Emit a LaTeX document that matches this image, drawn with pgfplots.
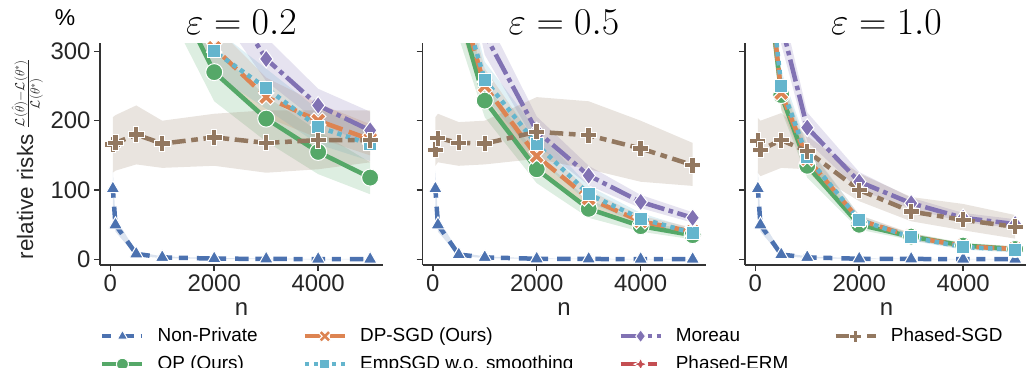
\RequirePackage{fix-cm}
\documentclass[border=0pt]{standalone}
\usepackage[no-math]{fontspec}
\setmainfont{Liberation Sans}
\usepackage{pgfplots}
\pgfplotsset{compat=1.18}
\usepgfplotslibrary{fillbetween}
\usepackage{pgfplotstable}

\definecolor{cnp}{HTML}{4C72B0}
\definecolor{cop}{HTML}{55A868}
\definecolor{cdp}{HTML}{DD8452}
\definecolor{cemp}{HTML}{64B5CD}
\definecolor{cmo}{HTML}{8172B3}
\definecolor{cpe}{HTML}{C44E52}
\definecolor{cps}{HTML}{937860}

% filled plus (seaborn 'P'), filled X, four-point star
\pgfdeclareplotmark{Pfill}{%
 \pgfpathmoveto{\pgfqpoint{0.34\pgfplotmarksize}{\pgfplotmarksize}}%
 \pgfpathlineto{\pgfqpoint{0.34\pgfplotmarksize}{0.34\pgfplotmarksize}}%
 \pgfpathlineto{\pgfqpoint{\pgfplotmarksize}{0.34\pgfplotmarksize}}%
 \pgfpathlineto{\pgfqpoint{\pgfplotmarksize}{-0.34\pgfplotmarksize}}%
 \pgfpathlineto{\pgfqpoint{0.34\pgfplotmarksize}{-0.34\pgfplotmarksize}}%
 \pgfpathlineto{\pgfqpoint{0.34\pgfplotmarksize}{-\pgfplotmarksize}}%
 \pgfpathlineto{\pgfqpoint{-0.34\pgfplotmarksize}{-\pgfplotmarksize}}%
 \pgfpathlineto{\pgfqpoint{-0.34\pgfplotmarksize}{-0.34\pgfplotmarksize}}%
 \pgfpathlineto{\pgfqpoint{-\pgfplotmarksize}{-0.34\pgfplotmarksize}}%
 \pgfpathlineto{\pgfqpoint{-\pgfplotmarksize}{0.34\pgfplotmarksize}}%
 \pgfpathlineto{\pgfqpoint{-0.34\pgfplotmarksize}{0.34\pgfplotmarksize}}%
 \pgfpathlineto{\pgfqpoint{-0.34\pgfplotmarksize}{\pgfplotmarksize}}%
 \pgfpathclose
 \pgfusepathqfillstroke}
\pgfdeclareplotmark{Xfill}{%
 \pgfscope
 \pgftransformrotate{45}%
 \pgfpathmoveto{\pgfqpoint{0.3\pgfplotmarksize}{\pgfplotmarksize}}%
 \pgfpathlineto{\pgfqpoint{0.3\pgfplotmarksize}{0.3\pgfplotmarksize}}%
 \pgfpathlineto{\pgfqpoint{\pgfplotmarksize}{0.3\pgfplotmarksize}}%
 \pgfpathlineto{\pgfqpoint{\pgfplotmarksize}{-0.3\pgfplotmarksize}}%
 \pgfpathlineto{\pgfqpoint{0.3\pgfplotmarksize}{-0.3\pgfplotmarksize}}%
 \pgfpathlineto{\pgfqpoint{0.3\pgfplotmarksize}{-\pgfplotmarksize}}%
 \pgfpathlineto{\pgfqpoint{-0.3\pgfplotmarksize}{-\pgfplotmarksize}}%
 \pgfpathlineto{\pgfqpoint{-0.3\pgfplotmarksize}{-0.3\pgfplotmarksize}}%
 \pgfpathlineto{\pgfqpoint{-\pgfplotmarksize}{-0.3\pgfplotmarksize}}%
 \pgfpathlineto{\pgfqpoint{-\pgfplotmarksize}{0.3\pgfplotmarksize}}%
 \pgfpathlineto{\pgfqpoint{-0.3\pgfplotmarksize}{0.3\pgfplotmarksize}}%
 \pgfpathlineto{\pgfqpoint{-0.3\pgfplotmarksize}{\pgfplotmarksize}}%
 \pgfpathclose
 \pgfusepathqfillstroke
 \endpgfscope}
\pgfdeclareplotmark{star4}{%
 \pgfpathmoveto{\pgfqpoint{0pt}{\pgfplotmarksize}}%
 \pgfpathlineto{\pgfqpoint{0.3\pgfplotmarksize}{0.3\pgfplotmarksize}}%
 \pgfpathlineto{\pgfqpoint{\pgfplotmarksize}{0pt}}%
 \pgfpathlineto{\pgfqpoint{0.3\pgfplotmarksize}{-0.3\pgfplotmarksize}}%
 \pgfpathlineto{\pgfqpoint{0pt}{-\pgfplotmarksize}}%
 \pgfpathlineto{\pgfqpoint{-0.3\pgfplotmarksize}{-0.3\pgfplotmarksize}}%
 \pgfpathlineto{\pgfqpoint{-\pgfplotmarksize}{0pt}}%
 \pgfpathlineto{\pgfqpoint{-0.3\pgfplotmarksize}{0.3\pgfplotmarksize}}%
 \pgfpathclose
 \pgfusepathqfillstroke}

\pgfplotstableread{
n np nplo nphi op oplo ophi dp dplo dphi emp emplo emphi mo molo mohi pe pelo pehi ps pslo pshi
50 102 78 128 3200 2800 3600 3300 2900 3700 3350 2950 3750 4000 3600 4400 6000 5500 6500 166 125 205
100 50 40 60 1800 1600 2000 1900 1700 2100 1950 1750 2150 2400 2200 2600 4000 3600 4400 168 128 208
500 8 5 11 700 630 770 750 680 820 760 690 830 950 870 1030 1500 1350 1650 180 137 222
1000 3 2 4.5 420 375 465 470 425 515 480 435 525 600 545 655 900 820 980 167 132 200
2000 1.2 0.5 2 270 228 305 305 272 338 300 267 333 408 365 450 600 540 660 176 135 210
3000 0.8 0.3 1.3 203 170 235 234 205 262 247 217 275 289 257 320 450 410 490 168 125 215
4000 0.5 0.1 0.9 155 123 185 200 175 225 191 166 216 222 198 246 380 345 415 172 130 215
5000 0.3 0 0.6 118 94 140 173 150 195 166 142 190 186 163 213 340 320 362 172 140 215
}\tA

\pgfplotstableread{
n np nplo nphi op oplo ophi dp dplo dphi emp emplo emphi mo molo mohi pe pelo pehi ps pslo pshi
50 102 78 128 1400 1250 1550 1500 1350 1650 1550 1400 1700 2000 1800 2200 3000 2700 3300 158 135 205
100 50 40 60 900 810 990 950 860 1040 980 890 1070 1300 1170 1430 2000 1800 2200 175 140 210
500 7 5 10 360 320 400 380 340 420 385 345 425 520 470 570 800 730 870 168 135 198
1000 3 2 4.5 229 205 255 250 225 275 259 235 285 325 295 355 520 470 570 167 137 200
2000 1 0.5 1.5 130 110 150 149 130 168 166 146 186 185 165 206 400 360 440 184 145 234
3000 0.7 0.3 1.1 73 60 86 88 76 100 94 82 106 121 107 135 360 330 390 179 130 228
4000 0.5 0.1 0.9 48 40 56 55 47 63 59 51 67 83 74 93 345 325 370 160 112 200
5000 0.3 0 0.6 35 29 41 40 34 46 38 32 44 60 53 68 335 318 355 136 106 168
}\tB

\pgfplotstableread{
n np nplo nphi op oplo ophi dp dplo dphi emp emplo emphi mo molo mohi pe pelo pehi ps pslo pshi
50 102 78 128 550 500 600 560 510 610 570 520 620 700 640 760 1500 1350 1650 171 125 204
100 50 40 60 500 450 550 510 460 560 520 470 570 640 580 700 1200 1080 1320 158 120 200
500 7 5 10 237 215 260 240 218 262 250 228 272 340 310 370 600 550 650 172 132 211
1000 3 2 4.5 135 118 152 145 128 162 148 131 165 190 170 212 420 380 460 156 130 178
2000 1 0.5 1.5 50 43 58 57 50 64 57 50 64 112 100 126 350 325 380 100 84 124
3000 0.7 0.3 1.1 33 28 38 33 28 38 32 27 37 81 73 89 330 316 350 69 55 90
4000 0.5 0.1 0.9 20 16 24 19 15 23 18 14 22 60 54 67 325 314 345 57 42 80
5000 0.3 0 0.6 15 11 19 15 11 19 14 10 18 51 45 58 320 313 340 47 30 64
}\tC

\pgfplotsset{
 npsty/.style={color=cnp, line width=4.5bp, dash pattern=on 9bp off 9bp on 13.5bp off 6.75bp,
   mark=triangle*, mark size=8bp, mark options={solid, fill=cnp, draw=white, line width=1bp}},
 opsty/.style={color=cop, line width=4.5bp, solid,
   mark=*, mark size=8.5bp, mark options={solid, fill=cop, draw=white, line width=1bp}},
 dpsty/.style={color=cdp, line width=4.5bp, dash pattern=on 18bp off 6.75bp,
   mark=Xfill, mark size=8.5bp, mark options={solid, fill=cdp, draw=white, line width=1bp}},
 empsty/.style={color=cemp, line width=4.5bp, dash pattern=on 4.5bp off 4.5bp,
   mark=square*, mark size=6.5bp, mark options={solid, fill=cemp, draw=white, line width=1bp}},
 mosty/.style={color=cmo, line width=4.5bp, dash pattern=on 22.5bp off 4.5bp on 4.5bp off 4.5bp,
   mark=diamond*, mark size=9bp, mark options={solid, fill=cmo, draw=white, line width=1bp}},
 pesty/.style={color=cpe, line width=4.5bp, dash pattern=on 22.5bp off 4.5bp on 9bp off 4.5bp on 9bp off 4.5bp,
   mark=star4, mark size=8bp, mark options={solid, fill=cpe, draw=white, line width=1bp}},
 pssty/.style={color=cps, line width=4.5bp, dash pattern=on 13.5bp off 5.6bp on 6.75bp off 5.6bp,
   mark=Pfill, mark size=8bp, mark options={solid, fill=cps, draw=white, line width=1bp}},
 myaxis/.style={
   scale only axis, width=283bp, height=222bp,
   xmin=-197.5, xmax=5247.5, ymin=-8, ymax=312,
   axis x line*=bottom, axis y line*=left,
   axis line style={-, draw=black!80, line width=1.5bp},
   xtick={0,2000,4000}, ytick={0,100,200,300},
   tick align=outside, major tick length=6bp,
   tick style={draw=black!80, line width=1.5bp},
   scaled x ticks=false,
   xticklabel style={/pgf/number format/1000 sep={}},
   /pgf/number format/assume math mode=true,
   tick label style={font=\fontsize{24}{28}\selectfont, text=black!85},
   title style={font=\fontsize{38}{42}\selectfont, at={(axis description cs:0.5,1)}, anchor=base, yshift=3bp},
   legend image code/.code={\draw[mark repeat=2,mark phase=2] plot coordinates {(0bp,0bp) (20bp,0bp) (40bp,0bp)};},
 },
}

\newcommand{\band}[3]{%
 \addplot[name path=#2H, draw=none, forget plot] table[x=n,y=#2hi]{#1};
 \addplot[name path=#2L, draw=none, forget plot] table[x=n,y=#2lo]{#1};
 \addplot[fill=#3, fill opacity=0.2, draw=none, forget plot] fill between[of=#2H and #2L];
}
\newcommand{\panel}[1]{%
 \band{#1}{np}{cnp}\band{#1}{op}{cop}\band{#1}{dp}{cdp}\band{#1}{emp}{cemp}%
 \band{#1}{mo}{cmo}\band{#1}{pe}{cpe}\band{#1}{ps}{cps}%
 \addplot[npsty, forget plot] table[x=n,y=np]{#1};
 \addplot[opsty, forget plot] table[x=n,y=op]{#1};
 \addplot[dpsty, forget plot] table[x=n,y=dp]{#1};
 \addplot[empsty, forget plot] table[x=n,y=emp]{#1};
 \addplot[mosty, forget plot] table[x=n,y=mo]{#1};
 \addplot[pesty, forget plot] table[x=n,y=pe]{#1};
 \addplot[pssty, forget plot] table[x=n,y=ps]{#1};
}

\begin{document}
\begin{tikzpicture}
\node at (65bp,-18bp) {\fontsize{23}{27}\selectfont\%};

\begin{axis}[myaxis, at={(100bp,-265bp)}, anchor=south west,
  title={$\varepsilon=0.2$},
  ylabel={\fontsize{22.5}{26}\selectfont relative risks \fontsize{19}{23}\selectfont$\frac{\mathcal{L}(\hat{\theta})-\mathcal{L}(\theta^*)}{\mathcal{L}(\theta^*)}$},
  ylabel style={text=black!85, at={(axis description cs:-0.2367,0.4775)}, anchor=base},
  legend style={at={(axis description cs:0,-0.2793)}, anchor=north west, draw=none, fill=none, inner sep=0pt,
    font=\fontsize{19}{23}\selectfont, legend columns=4, cells={anchor=west},
    nodes={inner xsep=0pt, inner ysep=0pt, text height=14bp, text depth=4bp},
    /tikz/row sep=10bp,
    /tikz/every odd column/.append style={column sep=13bp},
    /tikz/every even column/.append style={column sep=45bp}},
]
\panel{\tA}
\addlegendimage{npsty, mark size=6bp}\addlegendentry{Non-Private}
\addlegendimage{dpsty, mark size=6.5bp}\addlegendentry{DP-SGD (Ours)}
\addlegendimage{mosty, mark size=6.5bp}\addlegendentry{Moreau}
\addlegendimage{pssty, mark size=6bp}\addlegendentry{Phased-SGD}
\addlegendimage{opsty, mark size=6bp}\addlegendentry{OP (Ours)}
\addlegendimage{empsty, mark size=5bp}\addlegendentry{EmpSGD w.o. smoothing}
\addlegendimage{pesty, mark size=6.5bp}\addlegendentry{Phased-ERM}
\end{axis}

\begin{axis}[myaxis, at={(422.5bp,-265bp)}, anchor=south west,
  title={$\varepsilon=0.5$}, yticklabels={}]
\panel{\tB}
\end{axis}

\begin{axis}[myaxis, at={(745bp,-265bp)}, anchor=south west,
  title={$\varepsilon=1.0$}, yticklabels={}]
\panel{\tC}
\end{axis}

\foreach \cx in {241.5,564,886.5}{
  \node[anchor=base, text=black!85, font=\fontsize{24}{28}\selectfont] at (\cx bp,-315bp) {n};
}
\pgfresetboundingbox
\path[use as bounding box] (0bp,0bp) rectangle (1026bp,-368bp);
\end{tikzpicture}
\end{document}
